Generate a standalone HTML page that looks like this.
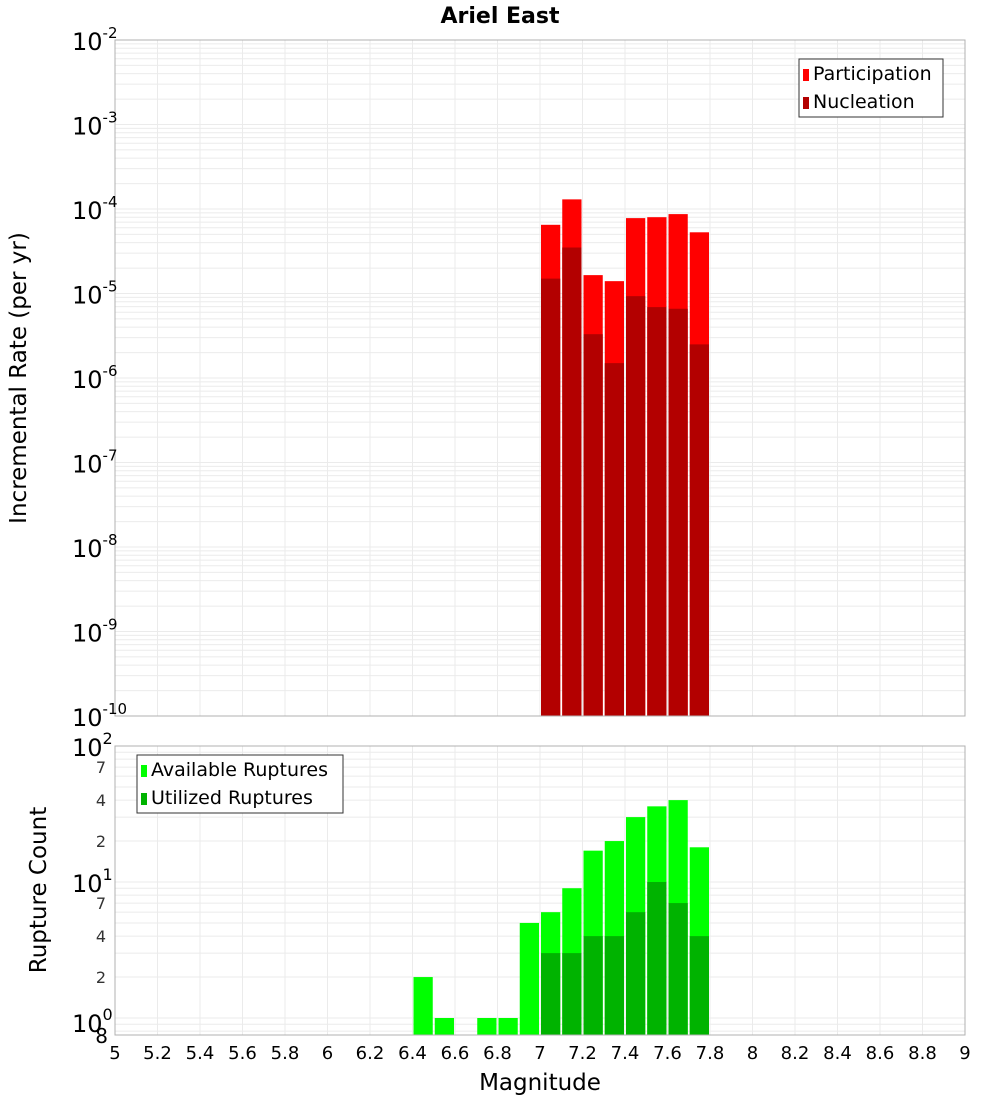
<!DOCTYPE html>
<html><head><meta charset="utf-8"><style>body{margin:0;background:#fff}svg{display:block;font-family:"DejaVu Sans","Liberation Sans",sans-serif}</style></head>
<body>
<svg id="c" width="1000" height="1100" xmlns="http://www.w3.org/2000/svg"></svg>
<script>
const bins=[7.05,7.15,7.25,7.35,7.45,7.55,7.65,7.75];
const participation=[6.5e-5,1.3e-4,1.65e-5,1.4e-5,7.8e-5,8e-5,8.7e-5,5.3e-5];
const nucleation=[1.5e-5,3.5e-5,3.3e-6,1.5e-6,9.3e-6,6.9e-6,6.6e-6,2.5e-6];
const countBins=[6.45,6.55,6.75,6.85,6.95,7.05,7.15,7.25,7.35,7.45,7.55,7.65,7.75];
const available=[2,1,1,1,5,6,9,17,20,30,36,40,18];
const utilBins=[7.05,7.15,7.25,7.35,7.45,7.55,7.65,7.75];
const utilized=[3,3,4,4,6,10,7,4];
const xTicks=[5,5.2,5.4,5.6,5.8,6,6.2,6.4,6.6,6.8,7,7.2,7.4,7.6,7.8,8,8.2,8.4,8.6,8.8,9];
const topExps=[-10,-9,-8,-7,-6,-5,-4,-3,-2];
const botLabels=[[100,"10","2"],[70,"7"],[40,"4"],[20,"2"],[10,"10","1"],[7,"7"],[4,"4"],[2,"2"],[1,"10","0"]];

const S=document.getElementById('c');const NS="http://www.w3.org/2000/svg";
function el(t,a,p){const e=document.createElementNS(NS,t);for(const k in a)e.setAttribute(k,a[k]);(p||S).appendChild(e);return e;}
const L=115,R=965;
const x=v=>L+(v-5)/4*(R-L);
const T0=40,T1=716;
const yT=v=>T1-(Math.log10(v)+10)/8*(T1-T0);
const B0=746,B1=1035;
const yB=v=>1018-136*Math.log10(v);
const bw=(R-L)/40;

let g=el('g',{});
for(let e=-10;e<-2;e++)for(let m=1;m<10;m++){const yy=yT(m*Math.pow(10,e));el('line',{x1:L,x2:R,y1:yy,y2:yy,stroke:'#ebebeb','stroke-width':1},g);}
xTicks.forEach(t=>el('line',{x1:x(t),x2:x(t),y1:T0,y2:T1,stroke:'#ebebeb'},g));
let g2=el('g',{});
for(let e=-1;e<2;e++)for(let m=1;m<10;m++){const v=m*Math.pow(10,e);const yy=yB(v);if(yy<B0||yy>B1)continue;el('line',{x1:L,x2:R,y1:yy,y2:yy,stroke:'#ebebeb'},g2);}
xTicks.forEach(t=>el('line',{x1:x(t),x2:x(t),y1:B0,y2:B1,stroke:'#ebebeb'},g2));

bins.forEach((b,i)=>{
 let r=el('rect',{x:x(b)-bw/2+1,y:yT(participation[i]),width:bw-2,height:T1-yT(participation[i]),fill:'#ff0000'});
 
 r=el('rect',{x:x(b)-bw/2+1,y:yT(nucleation[i]),width:bw-2,height:T1-yT(nucleation[i]),fill:'#b30000'});
 
});
countBins.forEach((b,i)=>{
 const yy=Math.max(yB(available[i]),B0);
 const r=el('rect',{x:x(b)-bw/2+1,y:yy,width:bw-2,height:B1-yy,fill:'#00ff00'});
 
});
utilBins.forEach((b,i)=>{
 const yy=yB(utilized[i]);
 const r=el('rect',{x:x(b)-bw/2+1,y:yy,width:bw-2,height:B1-yy,fill:'#00b300'});
 
});
let f=el('rect',{x:L,y:T0,width:R-L,height:T1-T0,fill:'none',stroke:'#b0b0b0'});
f=el('rect',{x:L,y:B0,width:R-L,height:B1-B0,fill:'none',stroke:'#b0b0b0'});

let t=el('text',{x:500,y:23,'text-anchor':'middle','font-size':22,'font-weight':'bold'});t.textContent='Ariel East';

topExps.forEach(e=>{const yy=yT(Math.pow(10,e));
 const tx=el('text',{x:72,y:yy+10,'font-size':24});
 tx.innerHTML='10<tspan dy="-12" font-size="15">'+e+'</tspan>';});
botLabels.forEach(l=>{const yy=yB(l[0]);const big=l.length>2;
 const tx=el('text',{x:big?72:106,y:yy+(big?(l[0]===1?14:10):6),'font-size':big?24:16,'text-anchor':big?'start':'end',fill:big?'#000':'#333'});
 
 tx.innerHTML=big?l[1]+'<tspan dy="-12" font-size="16">'+l[2]+'</tspan>':l[1];});
t=el('text',{x:108,y:1043,'font-size':20,'text-anchor':'end'});t.textContent='8';
xTicks.forEach(v=>{const tx=el('text',{x:x(v),y:1059,'font-size':18,'text-anchor':'middle'});tx.textContent=String(v);
 });
t=el('text',{x:540,y:1090,'font-size':23,'text-anchor':'middle'});t.textContent='Magnitude';
t=el('text',{x:0,y:0,'font-size':23,'text-anchor':'middle',transform:'translate(26,378) rotate(-90)'});t.textContent='Incremental Rate (per yr)';
t=el('text',{x:0,y:0,'font-size':23,'text-anchor':'middle',transform:'translate(46,890) rotate(-90)'});t.textContent='Rupture Count';

function legend(x0,y0,w,items,name){const lg=el('g',{});
 el('rect',{x:x0,y:y0,width:w,height:58,fill:'#fff',stroke:'#333'},lg);
 items.forEach((it,i)=>{el('rect',{x:x0+4,y:y0+10+i*28,width:6,height:12,fill:it[1]},lg);
 const tx=el('text',{x:x0+14,y:y0+21+i*28,'font-size':19},lg);tx.textContent=it[0];});}
legend(799,59,144,[['Participation','#ff0000'],['Nucleation','#b30000']],'top-legend');
legend(137,755,206,[['Available Ruptures','#00ff00'],['Utilized Ruptures','#00b300']],'bottom-legend');
</script>
</body></html>
